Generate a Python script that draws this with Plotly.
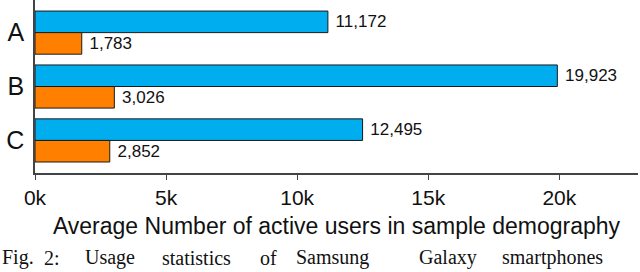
import plotly.graph_objects as go

categories = ["A", "B", "C"]
blue_values = [11172, 19923, 12495]
orange_values = [1783, 3026, 2852]
tick_vals = [0, 5000, 10000, 15000, 20000]
tick_text = ["0k", "5k", "10k", "15k", "20k"]
x_title = "Average Number of active users in sample demography"
caption_words = ["Fig.", "2:", "Usage", "statistics", "of", "Samsung", "Galaxy", "smartphones"]
caption_px = [0, 42, 83, 160, 258, 294, 417, 500]

W, H = 640, 272
L, R, T, B = 35, 2, 0, 99
FONT = "Liberation Sans"
NB = "\u00a0"

fig = go.Figure()
fig.add_trace(go.Bar(
    y=categories, x=blue_values, orientation="h",
    marker=dict(color="#00AEEF", line=dict(color="#1a1a1a", width=1)),
    texttemplate=NB + "%{x:,}", textposition="outside",
    textfont=dict(size=17, color="#111", family=FONT), cliponaxis=False,
))
fig.add_trace(go.Bar(
    y=categories, x=orange_values, orientation="h",
    marker=dict(color="#FF8000", line=dict(color="#1a1a1a", width=1)),
    texttemplate=NB + "%{x:,}", textposition="outside",
    textfont=dict(size=17, color="#111", family=FONT), cliponaxis=False,
))

pw = W - L - R
ph = H - T - B
annotations = []
for w, px in zip(caption_words, caption_px):
    annotations.append(dict(
        text=w, x=(px - L) / pw, xref="paper", xanchor="left",
        y=(ph - 271) / ph, yref="paper", yanchor="bottom", showarrow=False,
        font=dict(family="Liberation Serif", size=20, color="#111"),
    ))

fig.update_layout(
    width=W, height=H,
    margin=dict(l=L, r=R, t=T, b=B, autoexpand=False),
    barmode="group", bargap=0.2, bargroupgap=0,
    showlegend=False,
    plot_bgcolor="white", paper_bgcolor="white",
    font=dict(family=FONT, color="#111"),
    xaxis=dict(
        range=[0, 23000], tickvals=tick_vals, ticktext=tick_text,
        ticks="outside", ticklen=5, tickwidth=1.2, tickcolor="#444",
        showline=True, linecolor="#444", linewidth=1.5,
        showgrid=False, zeroline=False, automargin=False,
        tickfont=dict(size=21, family=FONT),
        title=dict(text=x_title, font=dict(size=23, family=FONT), standoff=10),
    ),
    yaxis=dict(
        categoryorder="array", categoryarray=categories,
        range=[2.604, -0.605], automargin=False,
        showline=True, linecolor="#444", linewidth=1.5,
        showgrid=False, zeroline=False, ticks="",
        ticklabelstandoff=4,
        tickfont=dict(size=25, family=FONT),
    ),
    annotations=annotations,
)

fig.write_html(
    "out.html",
    config={"displayModeBar": False},
    post_script="document.body.style.margin='0';document.body.style.overflow='hidden';",
)
